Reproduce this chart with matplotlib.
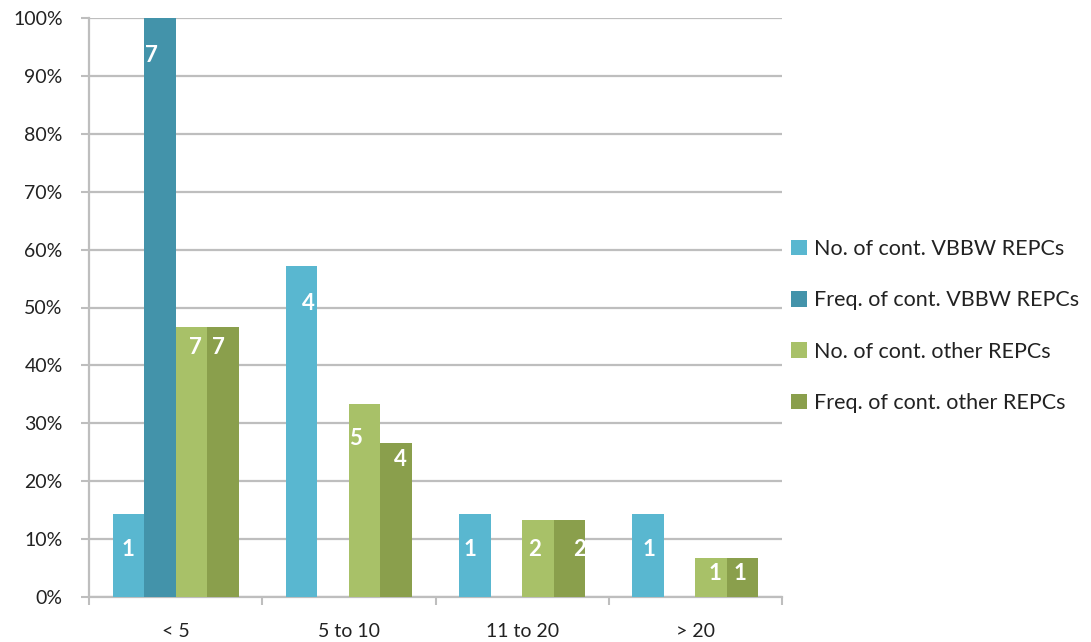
import matplotlib
matplotlib.use("Agg")
import matplotlib.pyplot as plt
from matplotlib.patches import Patch
from matplotlib.ticker import MultipleLocator, FuncFormatter, FixedLocator, NullFormatter
import numpy as np

plt.rcParams['font.family'] = ['Lato', 'DejaVu Sans']

categories = ["< 5", "5 to 10", "11 to 20", "> 20"]
series_names = [
    "No. of cont. VBBW REPCs",
    "Freq. of cont. VBBW REPCs",
    "No. of cont. other REPCs",
    "Freq. of cont. other REPCs",
]
no_vbbw = [1, 4, 1, 1]
freq_vbbw = [7, 0, 0, 0]
no_other = [7, 5, 2, 1]
freq_other = [7, 4, 2, 1]
vbbw_total = 7
other_total = 15

counts = [no_vbbw, freq_vbbw, no_other, freq_other]
totals = [vbbw_total, vbbw_total, other_total, other_total]
colors = ["#59B7D0", "#4393AA", "#A8C168", "#8A9F4C"]

# label nudges (pixels) relative to the top centre of each bar
label_nudge = [
    [(0, -35), (7, -37), (-5, -35), (1, -35)],
    [(-8, -37), (0, 0), (0, 0), (0, 0)],
    [(4, -21), (-9, -34), (-3, -30), (4, -15)],
    [(-4, -21), (4, -17), (10, -30), (-3, -15)],
]

W, H = 1091, 642
fig = plt.figure(figsize=(W / 100, H / 100), dpi=100)
ax = fig.add_axes([89 / W, 1 - 597 / H, (782 - 89) / W, (597 - 18) / H])

bar_w = 0.182
centers = np.arange(len(categories)) + 0.5
grid_c = "#BEBEBE"

for s, (cnt, tot, col) in enumerate(zip(counts, totals, colors)):
    vals = np.array(cnt) / tot * 100
    xs = centers + (s - 1.5) * bar_w
    ax.bar(xs, vals, width=bar_w, color=col, zorder=3, linewidth=0)
    for i, (x, v, c) in enumerate(zip(xs, vals, cnt)):
        if c == 0:
            continue
        dx, dy = label_nudge[s][i]
        ax.annotate(str(c), (x, v), xytext=(dx, dy), textcoords="offset pixels",
                    ha="center", va="center", color="white", fontsize=16,
                    fontweight="bold", zorder=4)

ax.set_xlim(0, len(categories))
ax.set_ylim(0, 100)

ax.yaxis.set_major_locator(MultipleLocator(10))
ax.yaxis.set_major_formatter(FuncFormatter(lambda v, p: f"{v:.0f}%"))
ax.grid(axis="y", color=grid_c, linewidth=1.6, zorder=0)

ax.xaxis.set_major_locator(FixedLocator(np.arange(len(categories) + 1)))
ax.xaxis.set_major_formatter(NullFormatter())
ax.xaxis.set_minor_locator(FixedLocator(centers))
ax.set_xticklabels(categories, minor=True)

ax.tick_params(axis="y", which="major", length=6, width=1.5, color=grid_c,
               pad=13, labelsize=14, labelcolor="#222222")
ax.tick_params(axis="x", which="major", length=6, width=1.5, color=grid_c)
ax.tick_params(axis="x", which="minor", length=0, pad=19, labelsize=14,
               labelcolor="#222222")

for side in ("top", "right"):
    ax.spines[side].set_visible(False)
for side in ("left", "bottom"):
    ax.spines[side].set_color(grid_c)
    ax.spines[side].set_linewidth(1.6)

handles = [Patch(facecolor=c, edgecolor="none") for c in colors]
fig.legend(handles, series_names, loc="center left",
           bbox_to_anchor=(772 / W, 1 - 326 / H), frameon=False,
           fontsize=15.5, handlelength=0.72, handleheight=0.72,
           handletextpad=0.35, labelspacing=1.45, labelcolor="#222222")

fig.savefig("out.png", dpi=100, facecolor="white")
